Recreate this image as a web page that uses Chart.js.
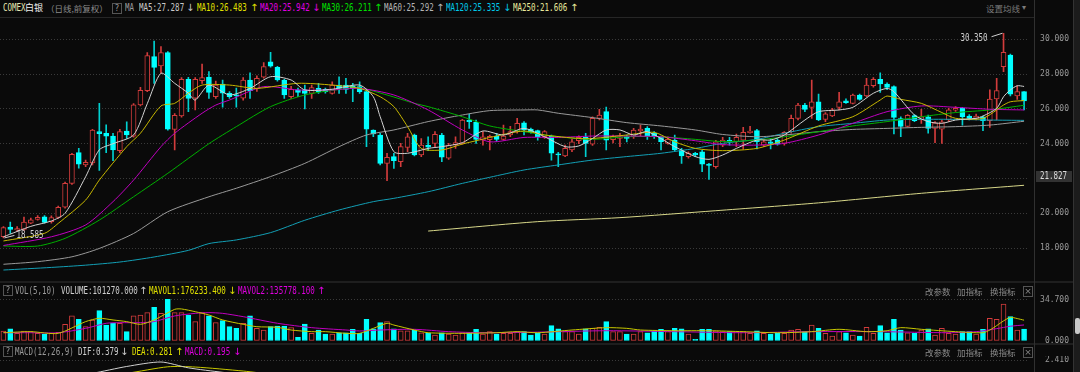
<!DOCTYPE html>
<html lang="zh-CN">
<head>
<meta charset="UTF-8" />
<title>COMEX白银 日线</title>
<script src="https://cdn.jsdelivr.net/npm/chart.js"></script>
<style>
  body { margin:0; width:1080px; height:372px; overflow:hidden; background:#0a0a0a; position:relative; }
  .pane { position:absolute; left:0; width:1080px; }
  .pane canvas { display:block; }
  .m { position:absolute; font:10px/12px "DejaVu Sans Mono", monospace; white-space:nowrap; transform:scaleX(0.75); transform-origin:0 50%; }
  .c { position:absolute; font:9px/12px "Noto Sans CJK SC", sans-serif; white-space:nowrap; color:#8a8a8a; }
  .ar { position:absolute; font:10px/12px "DejaVu Sans", sans-serif; }
  .q { position:absolute; width:8px; height:9px; border:1px solid #555; color:#999; font:8px/9px "DejaVu Sans Mono", monospace; text-align:center; }
  .x { position:absolute; width:8px; height:9px; border:1px solid #555; color:#888; font:9px/9px "DejaVu Sans", sans-serif; text-align:center; }
  .ln { position:absolute; background:#262626; }
</style>
</head>
<body>
<!-- frame lines -->
<div class="ln" style="left:0;top:17px;width:1034px;height:1px"></div>
<div class="ln" style="left:0;top:281px;width:1073px;height:2px;background:#1e1e1e"></div>
<div class="ln" style="left:0;top:343px;width:1073px;height:2px;background:#1e1e1e"></div>

<div class="pane" style="top:18px;height:262px"><canvas id="priceChart" width="1080" height="262"></canvas></div>
<div class="pane" style="top:284px;height:64px"><canvas id="volChart" width="1080" height="64"></canvas></div>
<div class="pane" style="top:356px;height:80px"><canvas id="macdChart" width="1080" height="80"></canvas></div>

<div class="ln" style="left:1034px;top:0;width:1px;height:372px;background:#303030"></div>
<div class="ln" style="left:1073px;top:0;width:7px;height:372px;background:#1c1c1c;border-left:1px solid #333"></div>
<div class="ln" style="left:1075px;top:318px;width:5px;height:16px;background:#c8c8c8;border-radius:2px"></div>

<!-- header row -->
<div class="m" style="left:3px;top:2px;color:#e6e6b0">COMEX</div>
<div class="c" style="left:25px;top:2px;color:#f0f0f0">白银</div>
<div class="c" style="left:46px;top:2px;font-size:8.5px">（日线,前复权）</div>
<div class="q" style="left:112px;top:3px">?</div>
<div class="m" style="left:125px;top:2px;color:#9a9a9a">MA</div>
<div class="m" style="left:139px;top:2px;color:#c8c8c8">MA5:27.287</div><div class="ar" style="left:186px;top:2px;color:#c8c8c8">↓</div>
<div class="m" style="left:197px;top:2px;color:#e0e000">MA10:26.483</div><div class="ar" style="left:250px;top:2px;color:#e0e000">↑</div>
<div class="m" style="left:260px;top:2px;color:#e000e0">MA20:25.942</div><div class="ar" style="left:312px;top:2px;color:#e000e0">↓</div>
<div class="m" style="left:322px;top:2px;color:#00e000">MA30:26.211</div><div class="ar" style="left:374px;top:2px;color:#00e000">↑</div>
<div class="m" style="left:384px;top:2px;color:#b4b4b4">MA60:25.292</div><div class="ar" style="left:436px;top:2px;color:#b4b4b4">↑</div>
<div class="m" style="left:446px;top:2px;color:#00c8e8">MA120:25.335</div><div class="ar" style="left:503px;top:2px;color:#00c8e8">↓</div>
<div class="m" style="left:513px;top:2px;color:#e8e89a">MA250:21.606</div><div class="ar" style="left:570px;top:2px;color:#e8e89a">↑</div>
<div class="c" style="left:986px;top:2px;font-size:8.5px;color:#7a7a7a">设置均线</div>
<div class="ar" style="left:1022px;top:2px;font-size:8px;color:#7a7a7a">▾</div>

<!-- volume row -->
<div class="q" style="left:3px;top:285px">?</div>
<div class="m" style="left:15px;top:285px;color:#9a9a9a">VOL(5,10)</div>
<div class="m" style="left:61px;top:285px;color:#d0d0d0">VOLUME:101270.000</div><div class="ar" style="left:139px;top:285px;color:#d0d0d0">↑</div>
<div class="m" style="left:149px;top:285px;color:#e0e000">MAVOL1:176233.400</div><div class="ar" style="left:228px;top:285px;color:#e0e000">↓</div>
<div class="m" style="left:238px;top:285px;color:#e000e0">MAVOL2:135778.100</div><div class="ar" style="left:317px;top:285px;color:#e000e0">↑</div>
<div class="c" style="left:925px;top:285px;font-size:8.5px">改参数</div>
<div class="c" style="left:957px;top:285px;font-size:8.5px">加指标</div>
<div class="c" style="left:990px;top:285px;font-size:8.5px">换指标</div>
<div class="x" style="left:1023px;top:286px">×</div>

<!-- macd row -->
<div class="q" style="left:3px;top:346px">?</div>
<div class="m" style="left:15px;top:346px;color:#9a9a9a">MACD(12,26,9)</div>
<div class="m" style="left:78px;top:346px;color:#d0d0d0">DIF:0.379</div><div class="ar" style="left:120px;top:346px;color:#d0d0d0">↓</div>
<div class="m" style="left:132px;top:346px;color:#e0e000">DEA:0.281</div><div class="ar" style="left:175px;top:346px;color:#e0e000">↑</div>
<div class="m" style="left:185px;top:346px;color:#e000e0">MACD:0.195</div><div class="ar" style="left:233px;top:346px;color:#e000e0">↓</div>
<div class="c" style="left:925px;top:346px;font-size:8.5px">改参数</div>
<div class="c" style="left:957px;top:346px;font-size:8.5px">加指标</div>
<div class="c" style="left:990px;top:346px;font-size:8.5px">换指标</div>
<div class="x" style="left:1023px;top:347px">×</div>

<!-- price marker -->
<div class="ln" style="left:1036px;top:171px;width:36px;height:11px;background:#323232"></div>
<div class="m" style="left:1040px;top:170px;color:#dcdcdc">21.827</div>

<script>
// daily candles
const opens = [
  18.66,19.21,19.05,19.08,19.43,19.65,19.80,19.52,19.77,20.35,
  21.72,23.49,22.78,22.90,24.69,24.60,24.44,23.60,24.73,24.44,
  26.23,27.05,29.00,28.47,29.23,24.82,25.59,27.70,26.62,27.62,
  27.83,26.70,27.43,26.90,26.80,26.61,27.66,27.16,27.82,28.70,
  28.39,27.66,26.70,27.10,27.09,26.89,27.18,27.12,26.89,27.37,
  27.37,27.33,27.28,26.99,24.79,24.50,22.87,23.26,22.97,23.79,
  24.50,23.35,23.90,24.02,24.50,23.17,23.94,24.02,25.36,25.23,
  24.21,24.23,24.44,24.25,24.50,24.69,25.20,24.84,24.75,24.40,
  24.44,23.42,23.30,23.64,24.17,24.36,23.98,25.46,25.84,24.23,
  24.30,24.40,24.40,24.73,24.88,24.60,24.36,24.02,24.21,23.64,
  23.26,23.45,23.54,22.83,22.68,23.92,24.20,24.11,24.21,24.63,
  24.75,23.92,24.11,24.21,24.02,24.69,25.46,26.22,26.09,26.41,
  25.40,25.59,26.09,26.47,26.32,26.79,26.74,27.33,27.70,27.43,
  27.28,25.45,25.00,25.61,25.36,25.55,24.88,24.84,25.36,25.92,
  26.03,25.59,25.45,25.55,25.32,26.57,28.43,29.10,26.74,26.99
];
const highs = [
  19.23,19.50,19.23,19.79,19.72,19.87,19.87,19.85,20.42,21.80,
  23.45,23.74,23.06,24.83,26.32,25.08,24.60,24.83,25.25,26.30,
  27.24,29.23,29.90,29.58,29.29,25.73,27.80,27.82,27.80,28.58,
  28.15,27.60,27.66,27.00,27.20,27.80,28.08,27.90,28.66,29.25,
  28.45,27.70,27.30,27.20,27.37,27.37,27.47,27.20,27.56,27.85,
  27.75,27.47,27.56,27.09,24.80,24.60,23.45,23.45,24.02,24.60,
  24.55,24.30,24.40,24.70,24.60,24.02,24.40,25.40,25.70,25.36,
  24.69,24.50,24.60,25.07,25.00,25.46,25.27,24.90,24.79,24.75,
  24.50,23.50,23.92,24.25,24.45,24.60,25.55,25.98,26.10,24.50,
  24.60,24.50,24.88,25.07,24.98,24.69,24.44,24.40,24.50,23.73,
  23.54,23.50,23.64,22.87,24.20,24.36,24.36,24.56,24.94,25.00,
  24.82,24.27,24.30,24.30,24.69,25.65,26.32,26.32,27.66,26.85,
  25.79,26.03,26.95,26.58,26.85,26.85,27.75,27.80,28.08,27.50,
  27.32,25.55,25.67,25.67,25.97,25.65,25.27,25.36,26.03,26.13,
  26.09,25.67,25.70,25.59,27.09,27.75,30.35,29.15,27.33,26.99
];
const lows = [
  18.585,18.85,18.95,19.02,19.40,19.60,19.43,19.43,19.71,20.30,
  21.66,22.59,22.68,22.78,22.47,23.49,23.03,23.49,24.31,24.37,
  26.17,26.99,27.47,28.05,24.78,23.64,25.52,25.84,25.94,27.47,
  26.60,26.60,26.10,26.60,26.10,26.50,26.60,27.00,27.76,28.40,
  27.60,26.60,26.60,26.70,26.00,26.60,26.89,26.90,26.85,26.89,
  26.89,26.42,26.89,23.83,24.40,22.78,21.87,22.58,22.68,23.54,
  23.30,23.26,23.60,23.83,22.97,23.10,23.73,23.98,24.88,24.02,
  23.92,23.64,24.13,24.21,24.40,24.60,24.50,24.60,24.21,24.30,
  23.06,22.68,23.26,23.54,24.00,23.26,23.90,25.36,23.64,24.04,
  23.83,24.10,24.31,24.40,24.25,24.31,23.64,23.98,23.60,22.87,
  23.17,23.26,22.39,21.95,22.60,23.83,23.92,23.83,23.68,24.60,
  23.70,23.83,23.70,23.92,23.92,24.60,25.36,25.84,25.46,25.32,
  25.27,25.55,25.94,26.32,26.28,26.50,26.70,27.25,26.95,27.10,
  24.56,24.40,24.98,25.27,25.17,24.60,24.06,24.02,25.27,25.86,
  25.07,25.36,25.36,24.75,24.94,25.36,28.14,26.74,26.55,25.94
];
const closes = [
  19.18,19.08,19.12,19.50,19.62,19.77,19.48,19.75,20.35,21.72,
  23.39,22.82,22.93,24.79,24.58,24.44,23.64,24.69,24.50,26.23,
  27.07,29.06,28.39,29.23,24.84,25.63,27.70,26.60,27.70,27.80,
  26.95,27.37,26.90,26.70,26.75,27.66,27.05,27.76,28.43,28.45,
  27.66,26.80,27.12,26.95,26.89,27.22,26.99,26.99,27.37,27.18,
  27.12,27.18,26.99,24.83,24.56,22.87,23.22,23.03,23.83,24.40,
  23.35,23.92,23.80,24.54,23.22,23.92,24.06,25.36,25.26,24.25,
  24.40,24.42,24.25,24.44,24.69,25.17,24.79,24.69,24.40,24.69,
  23.45,23.36,23.73,24.11,24.36,24.02,25.46,25.65,24.21,24.42,
  24.40,24.30,24.79,24.84,24.44,24.40,24.11,24.25,23.64,23.30,
  23.45,23.36,22.83,22.75,24.11,24.21,24.13,24.36,24.65,24.73,
  24.11,24.11,24.02,23.98,24.65,25.46,26.22,25.97,26.41,25.36,
  25.71,25.94,26.41,26.36,26.79,26.55,27.37,27.70,27.43,27.24,
  25.51,25.00,25.63,25.32,25.55,24.88,25.20,25.26,25.94,26.03,
  25.55,25.45,25.59,25.32,26.57,27.05,29.25,26.85,26.99,26.46
];
// volume, in units of 10k
const volumes = [
  8.5,10.2,6.5,8.5,7.9,6.5,5.6,6.5,7.3,14.1,
  21.2,18.3,12.1,17.8,25.7,13.5,15.0,15.0,7.9,21.2,
  22.0,24.0,28.5,23.4,35.3,24.0,24.0,22.0,16.4,24.0,
  21.2,15.5,17.2,12.1,10.7,15.0,21.2,10.7,9.3,12.1,
  12.7,12.7,11.3,3.1,14.4,6.5,9.3,5.9,5.9,7.0,
  7.0,9.9,6.5,18.3,10.2,15.5,16.4,10.2,8.7,8.7,
  9.3,7.0,6.5,5.1,7.0,5.9,5.1,7.0,7.0,9.9,
  5.9,7.9,5.9,6.5,6.5,7.9,7.9,5.1,6.5,5.9,
  13.0,10.2,7.9,7.9,5.9,10.2,10.7,11.6,16.4,7.9,
  7.9,5.9,5.9,7.9,7.0,8.7,9.9,7.9,10.7,10.2,
  5.9,1.4,9.9,9.9,8.7,7.9,7.9,7.9,7.9,6.5,
  8.7,6.5,5.9,6.5,6.5,9.3,9.9,7.9,13.5,10.7,
  6.5,4.2,7.9,7.0,5.1,4.2,11.6,6.5,13.0,7.0,
  18.3,9.3,7.0,6.5,9.3,10.2,5.1,10.7,6.5,5.9,
  7.9,7.9,5.9,9.9,19.2,18.3,31.3,20.6,9.3,10.13
];

// moving average lines, [day index, value] read at intervals
const ma5Pts = [[0,18.65],[4,19.25],[7,19.56],[9,20.0],[12,22.1],[14,23.65],[16,24.0],[19,24.5],[21,26.3],[23,28.05],[25,27.47],[27,26.9],[28,26.51],[30,27.37],[33,26.8],[36,27.18],[39,27.85],[42,27.66],[44,27.09],[48,27.13],[52,27.37],[54,26.7],[55,25.55],[57,23.54],[59,23.45],[62,23.73],[64,23.83],[67,24.06],[70,24.73],[73,24.5],[76,24.88],[79,24.4],[82,23.83],[84,23.87],[86,24.3],[88,24.79],[90,24.79],[92,24.5],[94,24.69],[98,23.83],[101,23.26],[103,23.1],[105,23.35],[107,23.73],[110,24.21],[112,24.21],[114,24.5],[117,25.36],[119,25.84],[122,25.94],[124,26.09],[127,26.9],[129,27.18],[130,26.99],[133,25.65],[135,25.27],[137,25.17],[139,25.36],[142,25.46],[143,25.59],[145,26.03],[146,26.7],[147,27.09],[148,27.33],[149,27.29]];
const ma10Pts = [[0,18.41],[6,18.85],[8,19.42],[12,20.76],[14,21.91],[18,23.83],[20,24.6],[23,26.17],[25,26.32],[27,26.9],[29,27.37],[33,27.37],[37,27.18],[43,27.47],[48,27.37],[52,27.18],[55,26.7],[57,26.13],[59,24.98],[61,23.73],[64,23.64],[67,23.98],[69,24.17],[71,24.36],[76,24.73],[79,24.5],[84,24.3],[86,24.3],[91,24.5],[95,24.65],[98,24.11],[101,23.73],[105,23.6],[110,23.73],[114,24.21],[119,25.02],[124,25.55],[128,26.51],[129,26.74],[131,26.55],[134,26.32],[137,25.79],[139,25.46],[143,25.46],[146,26.22],[147,26.41],[149,26.48]];
const ma20Pts = [[0,18.15],[7,18.65],[12,19.33],[16,20.67],[19,21.91],[23,23.83],[25,24.6],[29,25.75],[31,26.22],[33,26.51],[38,27.28],[43,27.09],[48,27.09],[52,27.18],[57,26.8],[62,25.94],[67,24.79],[71,24.11],[76,24.36],[81,24.36],[86,24.44],[91,24.44],[96,24.4],[101,24.17],[105,23.95],[110,23.92],[114,24.02],[119,24.5],[124,25.17],[129,25.84],[134,26.17],[139,26.09],[144,25.98],[149,25.94]];
const ma30Pts = [[0,18.12],[5,18.12],[9,18.56],[14,19.61],[19,20.95],[24,22.3],[30,24.0],[34,24.98],[39,26.13],[44,26.8],[49,27.12],[52,27.2],[56,26.8],[60,26.32],[62,26.13],[67,25.55],[71,25.02],[76,24.69],[81,24.4],[86,24.25],[91,24.4],[96,24.4],[101,24.25],[105,24.12],[110,24.21],[114,24.4],[119,24.69],[124,25.02],[129,25.27],[134,25.55],[139,25.79],[144,25.94],[149,26.21]];
const ma60Pts = [[0,17.07],[5,17.22],[10,17.5],[14,17.98],[19,18.84],[24,20.09],[30,20.95],[34,21.44],[39,22.11],[44,22.87],[49,23.83],[53,24.5],[57,24.79],[62,25.27],[67,25.65],[71,25.9],[76,25.94],[78,25.94],[81,25.75],[86,25.5],[91,25.21],[96,25.02],[101,24.79],[105,24.53],[110,24.4],[114,24.5],[119,24.69],[124,24.82],[129,24.88],[134,24.94],[139,24.98],[144,25.07],[149,25.29]];
const ma120Pts = [[0,16.74],[7,16.89],[12,17.02],[17,17.2],[22,17.49],[27,17.87],[30,18.26],[34,18.47],[39,18.89],[44,19.6],[49,20.19],[54,20.67],[57,20.86],[62,21.24],[67,21.72],[71,22.07],[76,22.49],[81,22.78],[86,23.06],[91,23.26],[96,23.45],[101,23.73],[105,24.02],[110,24.25],[114,24.6],[119,24.98],[124,25.17],[129,25.36],[134,25.4],[139,25.4],[144,25.36],[149,25.34]];
const ma250Pts = [[62,18.98],[78,19.52],[90,19.75],[104,20.15],[119,20.6],[134,21.15],[149,21.61]];

// volume averages
const mavol1Pts = [[0,7],[4,7.9],[8,6.5],[12,16.4],[14,19.2],[16,17.8],[18,16.4],[20,14.1],[22,17.8],[25,26.8],[26,27.1],[28,24.8],[30,22],[32,17.8],[35,14.1],[37,12.1],[40,11.6],[42,9.3],[45,7.9],[47,7.9],[50,6.5],[52,6.5],[54,10.7],[56,15],[57,13.5],[60,9.3],[62,7],[67,6.5],[72,7],[75,7.9],[78,7],[83,9.3],[88,11.3],[91,10.7],[93,9.3],[98,8.7],[103,8.7],[108,7.9],[113,7],[118,7.9],[122,9.9],[126,7.9],[129,8.7],[131,11.3],[134,9.9],[139,7.9],[143,7],[144,9.3],[145,13],[146,17],[147,20],[148,19],[149,17.62]];
const mavol2Pts = [[0,7],[4,7],[8,7],[12,10.7],[15,15],[17,15.5],[20,15.5],[22,16.4],[25,21.2],[28,23.4],[30,24],[32,23.4],[35,20.6],[40,15],[45,11.3],[50,9.3],[52,8.5],[55,9.3],[60,9.9],[65,7.9],[70,7],[78,7.5],[88,8.7],[98,7.9],[108,7],[118,7.9],[128,7.9],[138,7],[142,7.9],[144,9.5],[146,11.5],[147,12.5],[149,13.58]];

// MACD (only the top of the panel is in view)
const difPts = [[8,0.2],[13,0.75],[18,1.6],[23,2.16],[27,1.43],[32,0.87],[38,0.3],[45,-0.3],[60,-0.8],[80,-0.4],[100,-0.5],[120,0.2],[149,0.379]];
const deaPts = [[12,0.3],[18,0.75],[24,1.56],[28,1.53],[35,1.03],[40,0.57],[50,0.1],[65,-0.5],[85,-0.4],[105,-0.4],[125,0.1],[149,0.281]];

const priceTicks = [18, 20, 22, 24, 26, 28, 30];
const volTicks = [0, 34.7];
const macdTicks = [2.41];

const RED = '#d23c3c', CYAN = '#00ffff', CYAN_WICK = '#00d0d0', BG = '#0a0a0a';
const GRID = '#3a3a3a', TICK = '#9a9a9a';

const labels = opens.map((_, i) => i);
const up = closes.map((c, i) => c >= opens[i]);

function spread(pts) {
  const arr = new Array(labels.length).fill(null);
  pts.forEach(([i, v]) => { arr[i] = v; });
  return arr;
}

function maLine(pts, color) {
  return {
    type: 'line', data: spread(pts), borderColor: color, borderWidth: 1,
    pointRadius: 0, spanGaps: true, tension: 0.25, order: 0
  };
}

// right axis: 41.5px wide, labels right-aligned at x=1069 (layout padding right 11)
function yAxis(min, max, ticks) {
  return {
    position: 'right', min: min, max: max,
    afterFit: s => { s.width = 41.5; s.paddingTop = 0; s.paddingBottom = 0; },
    afterBuildTicks: s => { s.ticks = ticks.map(v => ({ value: v })); },
    grid: { color: GRID, drawTicks: false },
    border: { display: false, dash: [1, 2] },
    ticks: {
      color: TICK, padding: 0, crossAlign: 'far',
      font: { family: 'DejaVu Sans Mono', size: 8 },
      callback: v => Number(v).toFixed(3)
    }
  };
}

function opts(scales, padBottom) {
  return {
    responsive: false, animation: false, events: [],
    layout: { autoPadding: false, padding: { top: 0, left: 0, right: 11, bottom: padBottom || 0 } },
    plugins: { legend: { display: false }, tooltip: { enabled: false } },
    scales: scales
  };
}

function monoText(ctx, s, x, y, align) {
  ctx.save();
  ctx.translate(x, y);
  ctx.scale(0.75, 1);
  ctx.textAlign = align;
  ctx.textBaseline = 'middle';
  ctx.fillText(s, 0, 0);
  ctx.restore();
}

// high / low markers
const hiLoLabels = {
  id: 'hiLoLabels',
  afterDatasetsDraw(chart) {
    const { ctx, scales: { x, y } } = chart;
    let hi = 0, lo = 0;
    highs.forEach((v, i) => { if (v > highs[hi]) hi = i; });
    lows.forEach((v, i) => { if (v < lows[lo]) lo = i; });
    ctx.save();
    ctx.strokeStyle = '#d0d0d0';
    ctx.fillStyle = '#d0d0d0';
    ctx.lineWidth = 1;
    ctx.font = '10px "DejaVu Sans Mono"';
    let px = x.getPixelForValue(hi), py = y.getPixelForValue(highs[hi]);
    ctx.beginPath(); ctx.moveTo(px - 1, py); ctx.lineTo(px - 12, py + 3.5); ctx.stroke();
    monoText(ctx, highs[hi].toFixed(3), px - 16, py + 5, 'right');
    px = x.getPixelForValue(lo); py = y.getPixelForValue(lows[lo]);
    ctx.beginPath(); ctx.moveTo(px + 1, py); ctx.lineTo(px + 11, py - 2.5); ctx.stroke();
    monoText(ctx, lows[lo].toFixed(3), px + 13, py - 3, 'left');
    ctx.restore();
  }
};

new Chart(document.getElementById('priceChart'), {
  type: 'bar',
  data: {
    labels: labels,
    datasets: [
      maLine(ma5Pts, '#d2d2d2'),
      maLine(ma10Pts, '#c8b800'),
      maLine(ma20Pts, '#c000c0'),
      maLine(ma30Pts, '#00b000'),
      maLine(ma60Pts, '#9a9a9a'),
      maLine(ma120Pts, '#139fb5'),
      maLine(ma250Pts, '#d8d88a'),
      {
        data: opens.map((o, i) => [o, closes[i]]),
        backgroundColor: up.map(u => u ? BG : CYAN),
        borderColor: up.map(u => u ? RED : CYAN),
        borderWidth: 1, borderSkipped: false, barThickness: 5,
        grouped: false, minBarLength: 1, order: 1
      },
      {
        data: lows.map((l, i) => [l, highs[i]]),
        backgroundColor: up.map(u => u ? RED : CYAN_WICK),
        barThickness: 1, grouped: false, order: 2
      }
    ]
  },
  options: opts({
    x: { display: false, offset: true },
    y: yAxis(16.167, 31.224, priceTicks)
  }),
  plugins: [hiLoLabels]
});

const volY = yAxis(0, 48.24, volTicks);
volY.grid.color = c => (c.tick && c.tick.value === 0) ? 'rgba(0,0,0,0)' : GRID;

new Chart(document.getElementById('volChart'), {
  type: 'bar',
  data: {
    labels: labels,
    datasets: [
      maLine(mavol1Pts, '#c8c800'),
      maLine(mavol2Pts, '#c000c0'),
      {
        data: volumes,
        backgroundColor: up.map(u => u ? BG : CYAN),
        borderColor: up.map(u => u ? RED : CYAN),
        borderWidth: 1, borderSkipped: false, barThickness: 5,
        grouped: false, order: 1
      }
    ]
  },
  options: opts({ x: { display: false, offset: true }, y: volY }, 7)
});

new Chart(document.getElementById('macdChart'), {
  type: 'line',
  data: {
    labels: labels,
    datasets: [
      maLine(difPts, '#d0d0d0'),
      maLine(deaPts, '#c8c800')
    ]
  },
  options: opts({ x: { display: false, offset: true }, y: yAxis(-7.09, 2.91, macdTicks) })
});
</script>
</body>
</html>
